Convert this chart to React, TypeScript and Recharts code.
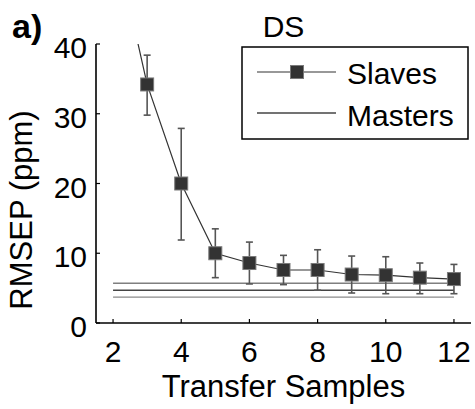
import React from 'react';
import { ComposedChart, Line, XAxis, YAxis, ErrorBar, Legend } from 'recharts';

const transferSamples = [2, 3, 4, 5, 6, 7, 8, 9, 10, 11, 12];
const slavesRmsep = [56, 34.2, 20.0, 10.0, 8.6, 7.6, 7.6, 6.95, 6.85, 6.5, 6.3];
const slavesLower = [52, 29.8, 11.9, 6.5, 5.6, 5.5, 4.7, 4.3, 4.2, 4.2, 4.2];
const slavesUpper = [60, 38.4, 27.9, 13.5, 11.6, 9.7, 10.5, 9.6, 9.5, 8.6, 8.4];
const mastersUpper = 5.7;
const mastersMean = 4.7;
const mastersLower = 3.7;
const xTicks = [2, 4, 6, 8, 10, 12];
const yTicks = [0, 10, 20, 30, 40];
const seriesNames = ['Slaves', 'Masters'];
const titleText = 'DS';
const panelText = 'a)';
const xLabel = 'Transfer Samples';
const yLabel = 'RMSEP (ppm)';

const data = transferSamples.map((x, i) => ({
  x,
  slaves: slavesRmsep[i],
  err: [slavesRmsep[i] - slavesLower[i], slavesUpper[i] - slavesRmsep[i]],
  mHi: mastersUpper,
  mMid: mastersMean,
  mLo: mastersLower,
}));

const FONT = '"Liberation Sans", Arial, Helvetica, sans-serif';
const W = 475;
const H = 409;
const PLOT_LEFT = 96;
const PLOT_RIGHT = 471;
const PLOT_TOP = 44;
const PLOT_BOTTOM = 323;
const TICK_LEN = 4;

const BottomTick = (props: any) => {
  const { x, y, payload } = props;
  return (
    <g>
      <line x1={x} y1={y} x2={x} y2={y - TICK_LEN} stroke="#000" strokeWidth={1.2} />
      <text x={x} y={y + 39} textAnchor="middle" fontSize={30} fontFamily={FONT} fill="#000">
        {payload.value}
      </text>
    </g>
  );
};

const TopTick = (props: any) => {
  const { x, y } = props;
  return <line x1={x} y1={y} x2={x} y2={y + TICK_LEN} stroke="#000" strokeWidth={1.2} />;
};

const LeftTick = (props: any) => {
  const { x, y, payload } = props;
  return (
    <g>
      <line x1={x} y1={y} x2={x + TICK_LEN} y2={y} stroke="#000" strokeWidth={1.2} />
      <text x={x - 9} y={y + 14} textAnchor="end" fontSize={30} fontFamily={FONT} fill="#000">
        {payload.value}
      </text>
    </g>
  );
};

const RightTick = (props: any) => {
  const { x, y } = props;
  return <line x1={x} y1={y} x2={x - TICK_LEN} y2={y} stroke="#000" strokeWidth={1.2} />;
};

const SquareDot = (props: any) => {
  const { cx, cy, index } = props;
  if (cx == null || cy == null) return <g key={`d-${index}`} />;
  return (
    <rect
      key={`d-${index}`}
      x={cx - 6.5}
      y={cy - 6.5}
      width={13}
      height={13}
      fill="#333333"
      stroke="#7a7a7a"
      strokeWidth={1}
    />
  );
};

const LegendBox = () => (
  <svg width={228} height={94} style={{ display: 'block', overflow: 'visible' }}>
    <rect x={1} y={1} width={226} height={92} fill="#fff" stroke="#000" strokeWidth={1.5} />
    <line x1={16} y1={26} x2={95} y2={26} stroke="#333" strokeWidth={1.2} />
    <rect x={49.5} y={19.5} width={13} height={13} fill="#333" stroke="#7a7a7a" strokeWidth={1} />
    <text x={106} y={38} fontSize={30} fontFamily={FONT} fill="#000">{seriesNames[0]}</text>
    <line x1={16} y1={67} x2={95} y2={67} stroke="#444" strokeWidth={1.5} />
    <text x={106} y={80} fontSize={30} fontFamily={FONT} fill="#000">{seriesNames[1]}</text>
  </svg>
);

export default function App() {
  return (
    <div style={{ position: 'absolute', left: 0, top: 0, width: W, height: H, background: '#fff' }}>
      <ComposedChart
        width={W}
        height={H}
        data={data}
        margin={{ top: PLOT_TOP, right: W - PLOT_RIGHT, bottom: 0, left: 0 }}
      >
        <XAxis
          dataKey="x"
          type="number"
          domain={[1.5, 12.5]}
          ticks={xTicks}
          allowDataOverflow
          height={H - PLOT_BOTTOM}
          tickSize={0}
          tickMargin={0}
          tick={<BottomTick />}
          axisLine={{ stroke: '#000', strokeWidth: 1.6 }}
          tickLine={false}
          interval={0}
        />
        <XAxis
          xAxisId="top"
          orientation="top"
          dataKey="x"
          type="number"
          domain={[1.5, 12.5]}
          ticks={xTicks}
          allowDataOverflow
          height={0}
          tickSize={0}
          tickMargin={0}
          tick={<TopTick />}
          axisLine={{ stroke: '#000', strokeWidth: 1.6 }}
          tickLine={false}
          interval={0}
        />
        <YAxis
          type="number"
          domain={[0, 40]}
          ticks={yTicks}
          allowDataOverflow
          width={PLOT_LEFT}
          tickSize={0}
          tickMargin={0}
          tick={<LeftTick />}
          axisLine={{ stroke: '#000', strokeWidth: 1.6 }}
          tickLine={false}
          interval={0}
        />
        <YAxis
          yAxisId="right"
          orientation="right"
          type="number"
          domain={[0, 40]}
          ticks={yTicks}
          allowDataOverflow
          width={0}
          tickSize={0}
          tickMargin={0}
          tick={<RightTick />}
          axisLine={{ stroke: '#000', strokeWidth: 1.6 }}
          tickLine={false}
          interval={0}
        />
        <Legend
          layout="horizontal"
          verticalAlign="middle"
          align="center"
          content={() => <LegendBox />}
          wrapperStyle={{ position: 'absolute', left: 241, top: 46, width: 228, height: 94 }}
        />
        <Line
          dataKey="mHi"
          stroke="#7f7f7f"
          strokeWidth={1.3}
          dot={false}
          activeDot={false}
          isAnimationActive={false}
          legendType="none"
        />
        <Line
          dataKey="mMid"
          stroke="#444444"
          strokeWidth={1.6}
          dot={false}
          activeDot={false}
          isAnimationActive={false}
          legendType="none"
        />
        <Line
          dataKey="mLo"
          stroke="#8a8a8a"
          strokeWidth={1.3}
          dot={false}
          activeDot={false}
          isAnimationActive={false}
          legendType="none"
        />
        <Line
          dataKey="slaves"
          stroke="#333333"
          strokeWidth={1.2}
          dot={<SquareDot />}
          activeDot={false}
          isAnimationActive={false}
        >
          <ErrorBar dataKey="err" direction="y" width={3.5} stroke="#555555" strokeWidth={1.6} />
        </Line>
      </ComposedChart>
      <div
        style={{
          position: 'absolute',
          left: 12,
          top: 6,
          fontFamily: FONT,
          fontWeight: 'bold',
          fontSize: 34,
          lineHeight: '40px',
          color: '#000',
        }}
      >
        {panelText}
      </div>
      <div
        style={{
          position: 'absolute',
          left: PLOT_LEFT,
          width: PLOT_RIGHT - PLOT_LEFT,
          top: 9,
          textAlign: 'center',
          fontFamily: FONT,
          fontSize: 30,
          lineHeight: '36px',
          color: '#000',
        }}
      >
        {titleText}
      </div>
      <div
        style={{
          position: 'absolute',
          left: PLOT_LEFT,
          width: PLOT_RIGHT - PLOT_LEFT,
          top: 368,
          textAlign: 'center',
          fontFamily: FONT,
          fontSize: 31,
          lineHeight: '38px',
          color: '#000',
          whiteSpace: 'nowrap',
        }}
      >
        {xLabel}
      </div>
      <div
        style={{
          position: 'absolute',
          left: 21,
          top: 210,
          transform: 'translate(-50%, -50%) rotate(-90deg)',
          fontFamily: FONT,
          fontSize: 31,
          lineHeight: '31px',
          color: '#000',
          whiteSpace: 'nowrap',
        }}
      >
        {yLabel}
      </div>
    </div>
  );
}
